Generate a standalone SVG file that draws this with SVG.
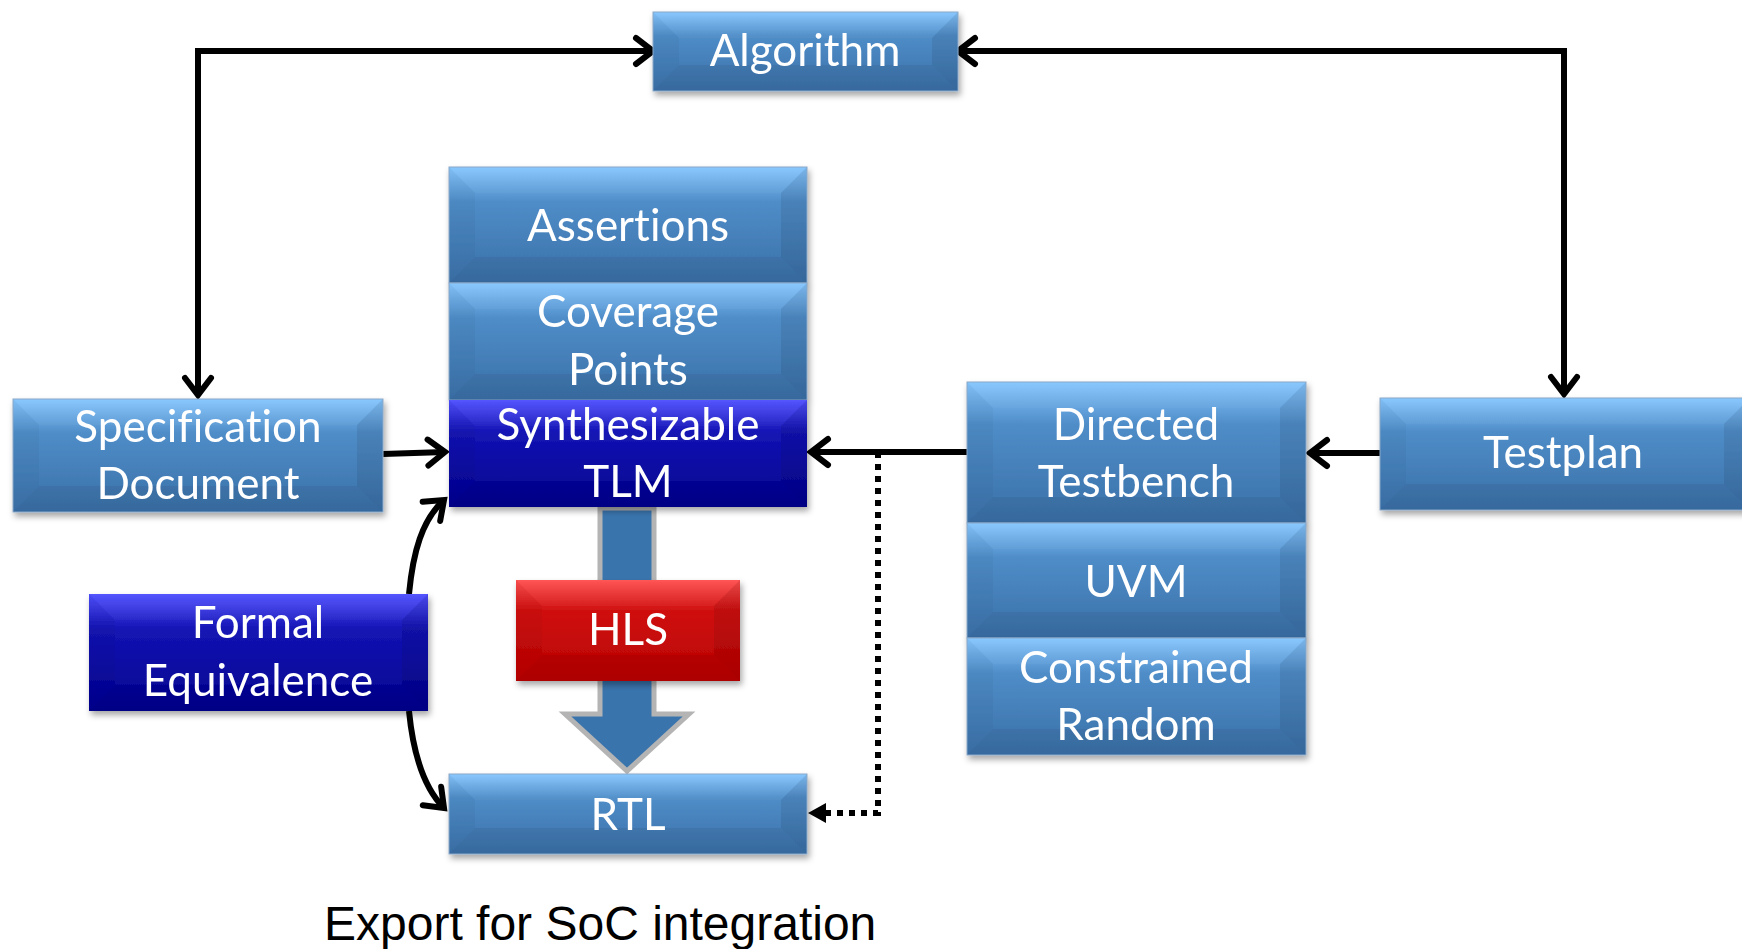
<svg xmlns="http://www.w3.org/2000/svg" width="1742" height="949" viewBox="0 0 1742 949">
<style>
.lbl{font-family:Lato,"Open Sans","Liberation Sans",sans-serif;font-size:44px;fill:#fff;text-anchor:middle;font-variant-ligatures:none}
.cap{font-family:"Liberation Sans",Arial,sans-serif;font-size:48px;fill:#000}
.blue{fill:url(#gBlue)}
.dark{fill:url(#gDark)}
.red{fill:url(#gRed)}
.box{filter:url(#sh)}
.bl{fill:#000;fill-opacity:0.03}
.br{fill:#000;fill-opacity:0.08}
.bb{fill:#000;fill-opacity:0.06}
.bt{fill:#fff;fill-opacity:0.03}
.edge{fill:none;stroke:#8aa8c8;stroke-width:1}
.conn{fill:none;stroke:#000;stroke-width:6}
.dot{fill:none;stroke:#000;stroke-width:6;stroke-dasharray:6 6}
</style>
<defs>
<linearGradient id="gBlue" x1="0" y1="0" x2="0" y2="1">
<stop offset="0" stop-color="#86c6ff"/>
<stop offset="0.3" stop-color="#4f8dc8"/>
<stop offset="1" stop-color="#3a70a8"/>
</linearGradient>
<linearGradient id="gDark" x1="0" y1="0" x2="0" y2="1">
<stop offset="0" stop-color="#5050ff"/>
<stop offset="0.3" stop-color="#1414b4"/>
<stop offset="1" stop-color="#00008e"/>
</linearGradient>
<linearGradient id="gRed" x1="0" y1="0" x2="0" y2="1">
<stop offset="0" stop-color="#ff5050"/>
<stop offset="0.3" stop-color="#d01010"/>
<stop offset="1" stop-color="#b80000"/>
</linearGradient>
<filter id="sh" x="-10%" y="-10%" width="125%" height="135%">
<feDropShadow dx="2" dy="4" stdDeviation="3" flood-color="#000" flood-opacity="0.35"/>
</filter>
<marker id="ah" markerUnits="userSpaceOnUse" markerWidth="34" markerHeight="34" refX="0" refY="0" viewBox="-22 -17 26 34" orient="auto-start-reverse">
<path d="M-17,-13 L0,0 L-17,13" fill="none" stroke="#000" stroke-width="6" stroke-linecap="round" stroke-linejoin="miter"/>
</marker>
</defs>
<rect width="1742" height="949" fill="#fff"/>

<g id="connectors">
<path class="conn" d="M653,51 H198 V395" marker-start="url(#ah)" marker-end="url(#ah)"/>
<path class="conn" d="M958,51 H1564 V394" marker-start="url(#ah)" marker-end="url(#ah)"/>
<path class="conn" d="M383,454 L445,452" marker-end="url(#ah)"/>
<path class="conn" d="M967,452 H811" marker-end="url(#ah)"/>
<path class="conn" d="M1380,453 H1310" marker-end="url(#ah)"/>
<path class="conn" d="M409,594 C413,552 422,520 444,500" marker-end="url(#ah)"/>
<path class="conn" d="M409,711 C413,752 424,788 444,808" marker-end="url(#ah)"/>
<path class="dot" d="M878,452 V813 H826"/>
<path d="M808,813 L826,803 L826,823 z" fill="#000"/>
<polygon points="600,508 654,508 654,714 689,714 627,771 565,714 600,714" fill="#3a74ad" stroke="#b4b4b4" stroke-width="5"/>
</g>

<g id="algorithm" class="box">
<rect x="653" y="12" width="305" height="79" class="blue"/>
<path class="bt" d="M653,12 l26,26 h253 l26,-26 z"/>
<path class="bl" d="M653,12 l26,26 v27 l-26,26 z"/>
<path class="br" d="M958,12 l-26,26 v27 l26,26 z"/>
<path class="bb" d="M653,91 l26,-26 h253 l26,26 z"/>
<rect x="653" y="12" width="305" height="79" class="edge"/>
<text class="lbl" x="805" y="66">Algorithm</text>
</g>

<g id="assertions" class="box">
<rect x="449" y="167" width="358" height="116" class="blue"/>
<path class="bt" d="M449,167 l26,26 h306 l26,-26 z"/>
<path class="bl" d="M449,167 l26,26 v64 l-26,26 z"/>
<path class="br" d="M807,167 l-26,26 v64 l26,26 z"/>
<path class="bb" d="M449,283 l26,-26 h306 l26,26 z"/>
<rect x="449" y="167" width="358" height="116" class="edge"/>
<text class="lbl" x="628" y="241">Assertions</text>
</g>

<g id="coverage" class="box">
<rect x="449" y="283" width="358" height="117" class="blue"/>
<path class="bt" d="M449,283 l26,26 h306 l26,-26 z"/>
<path class="bl" d="M449,283 l26,26 v65 l-26,26 z"/>
<path class="br" d="M807,283 l-26,26 v65 l26,26 z"/>
<path class="bb" d="M449,400 l26,-26 h306 l26,26 z"/>
<rect x="449" y="283" width="358" height="117" class="edge"/>
<text class="lbl" x="628" y="327">Coverage</text>
<text class="lbl" x="628" y="385">Points</text>
</g>

<g id="synth" class="box">
<rect x="449" y="400" width="358" height="107" class="dark"/>
<path class="bt" d="M449,400 l26,26 h306 l26,-26 z"/>
<path class="bl" d="M449,400 l26,26 v55 l-26,26 z"/>
<path class="br" d="M807,400 l-26,26 v55 l26,26 z"/>
<path class="bb" d="M449,507 l26,-26 h306 l26,26 z"/>
<text class="lbl" x="628" y="440">Synthesizable</text>
<text class="lbl" x="628" y="497">TLM</text>
</g>

<g id="spec" class="box">
<rect x="13" y="399" width="370" height="113" class="blue"/>
<path class="bt" d="M13,399 l26,26 h318 l26,-26 z"/>
<path class="bl" d="M13,399 l26,26 v61 l-26,26 z"/>
<path class="br" d="M383,399 l-26,26 v61 l26,26 z"/>
<path class="bb" d="M13,512 l26,-26 h318 l26,26 z"/>
<rect x="13" y="399" width="370" height="113" class="edge"/>
<text class="lbl" x="198" y="442">Specification</text>
<text class="lbl" x="198" y="499">Document</text>
</g>

<g id="formal" class="box">
<rect x="89" y="594" width="339" height="117" class="dark"/>
<path class="bt" d="M89,594 l26,26 h287 l26,-26 z"/>
<path class="bl" d="M89,594 l26,26 v65 l-26,26 z"/>
<path class="br" d="M428,594 l-26,26 v65 l26,26 z"/>
<path class="bb" d="M89,711 l26,-26 h287 l26,26 z"/>
<text class="lbl" x="258" y="638">Formal</text>
<text class="lbl" x="258" y="696">Equivalence</text>
</g>

<g id="hls" class="box">
<rect x="516" y="580" width="224" height="101" class="red"/>
<path class="bt" d="M516,580 l26,26 h172 l26,-26 z"/>
<path class="bl" d="M516,580 l26,26 v49 l-26,26 z"/>
<path class="br" d="M740,580 l-26,26 v49 l26,26 z"/>
<path class="bb" d="M516,681 l26,-26 h172 l26,26 z"/>
<text class="lbl" x="628" y="645">HLS</text>
</g>

<g id="rtl" class="box">
<rect x="449" y="774" width="358" height="80" class="blue"/>
<path class="bt" d="M449,774 l26,26 h306 l26,-26 z"/>
<path class="bl" d="M449,774 l26,26 v28 l-26,26 z"/>
<path class="br" d="M807,774 l-26,26 v28 l26,26 z"/>
<path class="bb" d="M449,854 l26,-26 h306 l26,26 z"/>
<rect x="449" y="774" width="358" height="80" class="edge"/>
<text class="lbl" x="628" y="830">RTL</text>
</g>

<g id="directed" class="box">
<rect x="967" y="382" width="339" height="141" class="blue"/>
<path class="bt" d="M967,382 l26,26 h287 l26,-26 z"/>
<path class="bl" d="M967,382 l26,26 v89 l-26,26 z"/>
<path class="br" d="M1306,382 l-26,26 v89 l26,26 z"/>
<path class="bb" d="M967,523 l26,-26 h287 l26,26 z"/>
<rect x="967" y="382" width="339" height="141" class="edge"/>
<text class="lbl" x="1136" y="440">Directed</text>
<text class="lbl" x="1136" y="497">Testbench</text>
</g>

<g id="uvm" class="box">
<rect x="967" y="523" width="339" height="115" class="blue"/>
<path class="bt" d="M967,523 l26,26 h287 l26,-26 z"/>
<path class="bl" d="M967,523 l26,26 v63 l-26,26 z"/>
<path class="br" d="M1306,523 l-26,26 v63 l26,26 z"/>
<path class="bb" d="M967,638 l26,-26 h287 l26,26 z"/>
<rect x="967" y="523" width="339" height="115" class="edge"/>
<text class="lbl" x="1136" y="597">UVM</text>
</g>

<g id="constrained" class="box">
<rect x="967" y="638" width="339" height="117" class="blue"/>
<path class="bt" d="M967,638 l26,26 h287 l26,-26 z"/>
<path class="bl" d="M967,638 l26,26 v65 l-26,26 z"/>
<path class="br" d="M1306,638 l-26,26 v65 l26,26 z"/>
<path class="bb" d="M967,755 l26,-26 h287 l26,26 z"/>
<rect x="967" y="638" width="339" height="117" class="edge"/>
<text class="lbl" x="1136" y="683">Constrained</text>
<text class="lbl" x="1136" y="740">Random</text>
</g>

<g id="testplan" class="box">
<rect x="1380" y="398" width="370" height="112" class="blue"/>
<path class="bt" d="M1380,398 l26,26 h318 l26,-26 z"/>
<path class="bl" d="M1380,398 l26,26 v60 l-26,26 z"/>
<path class="br" d="M1750,398 l-26,26 v60 l26,26 z"/>
<path class="bb" d="M1380,510 l26,-26 h318 l26,26 z"/>
<rect x="1380" y="398" width="370" height="112" class="edge"/>
<text class="lbl" x="1563" y="468">Testplan</text>
</g>

<g id="caption">
<text class="cap" x="324" y="940">Export for SoC integration</text>
</g>
</svg>
